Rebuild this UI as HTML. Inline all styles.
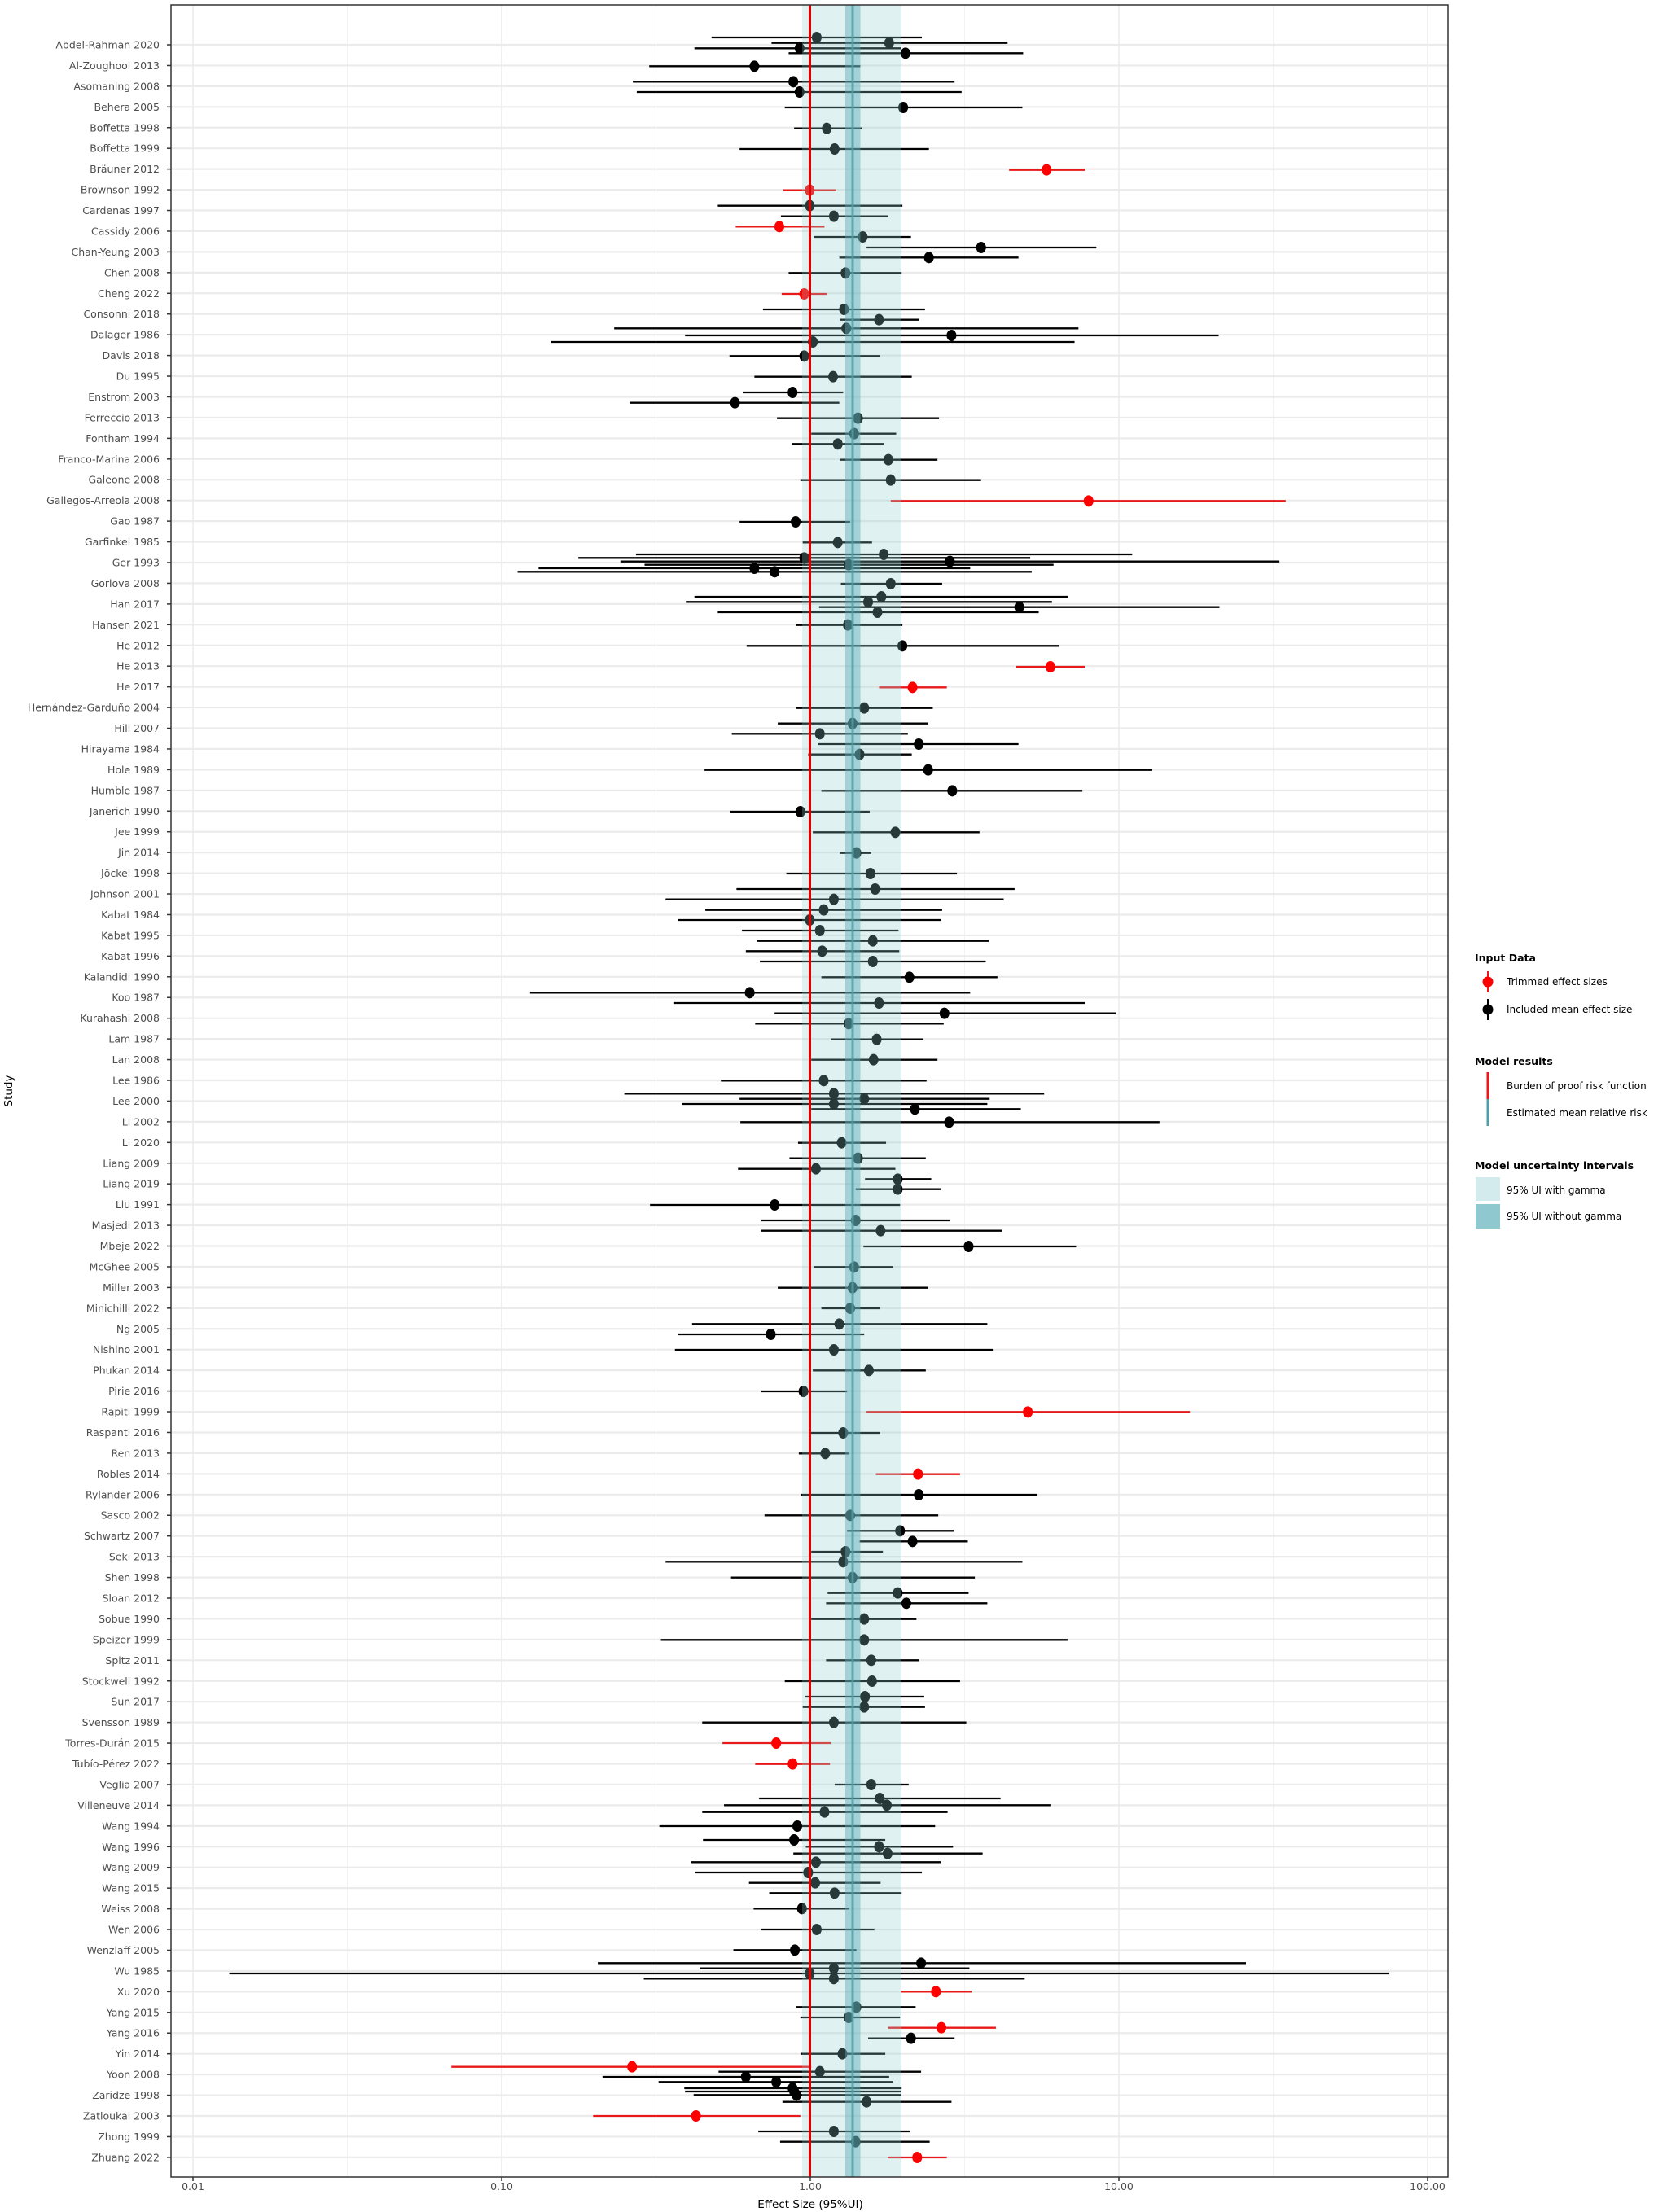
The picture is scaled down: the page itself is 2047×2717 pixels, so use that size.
<!DOCTYPE html>
<html><head><meta charset="utf-8"><style>
html,body{margin:0;padding:0;background:#fff;}
svg{display:block;font-family:"DejaVu Sans","Liberation Sans",sans-serif;}
</style></head><body>
<svg id="s" width="2047" height="2717" xmlns="http://www.w3.org/2000/svg"></svg>
<script>
const labels=["Abdel-Rahman 2020","Al-Zoughool 2013","Asomaning 2008","Behera 2005","Boffetta 1998","Boffetta 1999","Bräuner 2012","Brownson 1992","Cardenas 1997","Cassidy 2006","Chan-Yeung 2003","Chen 2008","Cheng 2022","Consonni 2018","Dalager 1986","Davis 2018","Du 1995","Enstrom 2003","Ferreccio 2013","Fontham 1994","Franco-Marina 2006","Galeone 2008","Gallegos-Arreola 2008","Gao 1987","Garfinkel 1985","Ger 1993","Gorlova 2008","Han 2017","Hansen 2021","He 2012","He 2013","He 2017","Hernández-Garduño 2004","Hill 2007","Hirayama 1984","Hole 1989","Humble 1987","Janerich 1990","Jee 1999","Jin 2014","Jöckel 1998","Johnson 2001","Kabat 1984","Kabat 1995","Kabat 1996","Kalandidi 1990","Koo 1987","Kurahashi 2008","Lam 1987","Lan 2008","Lee 1986","Lee 2000","Li 2002","Li 2020","Liang 2009","Liang 2019","Liu 1991","Masjedi 2013","Mbeje 2022","McGhee 2005","Miller 2003","Minichilli 2022","Ng 2005","Nishino 2001","Phukan 2014","Pirie 2016","Rapiti 1999","Raspanti 2016","Ren 2013","Robles 2014","Rylander 2006","Sasco 2002","Schwartz 2007","Seki 2013","Shen 1998","Sloan 2012","Sobue 1990","Speizer 1999","Spitz 2011","Stockwell 1992","Sun 2017","Svensson 1989","Torres-Durán 2015","Tubío-Pérez 2022","Veglia 2007","Villeneuve 2014","Wang 1994","Wang 1996","Wang 2009","Wang 2015","Weiss 2008","Wen 2006","Wenzlaff 2005","Wu 1985","Xu 2020","Yang 2015","Yang 2016","Yin 2014","Yoon 2008","Zaridze 1998","Zatloukal 2003","Zhong 1999","Zhuang 2022"];
const Z={
30:[[48,652,787,922],[68,729,880,1032],[88,630,765,895],[106,751,901,1052],[154,572,707,843],[211,551,757,964],[249,556,765,973],[306,746,898,1051],[383,758,800,845],[459,688,810,931],[536,1034,1082,1131,1],[611,744,778,812,1],[668,660,778,897],[707,741,809,879],[745,683,739,797,1],[783,783,846,908],[822,851,998,1146],[859,816,931,1046],[916,751,824,896],[993,742,771,800,1],[1050,718,822,926],[1088,817,867,918],[1120,527,825,1123],[1146,618,960,1303],[1170,446,782,1118],[1222,675,771,868],[1298,707,808,909]],
470:[[36,692,756,821],[74,547,682,816],[131,736,840,944],[188,780,835,889],[226,755,814,873],[284,817,879,942],[359,766,882,998],[436,882,1136,1389,1],[513,688,760,830],[589,769,814,858],[633,555,873,1192],[646,481,771,1061],[659,535,958,1381],[671,566,828,1091],[684,430,707,984],[697,403,733,1063],[741,818,882,948],[789,630,870,1110],[808,619,853,1089],[827,790,1047,1304],[846,660,865,1072],[893,760,827,897],[970,697,897,1098],[1047,1043,1087,1131,1],[1123,867,910,954,1],[1199,761,848,936],[1256,737,833,930],[1294,678,791,904],[1332,789,918,1046]],
910:[[50,776,842,909],[107,643,930,1217],[184,793,961,1128],[261,676,766,855],[337,782,888,996],[413,817,838,857],[489,748,856,967],[546,684,862,1041],[584,593,809,1027],[623,644,796,948],[660,609,778,947],[699,691,791,892],[737,710,859,1008],[775,696,794,893],[813,714,859,1004],[871,793,906,1019],[928,419,701,984],[966,604,867,1131],[1004,733,951,1171],[1042,708,828,950],[1100,805,864,924],[1175,780,860,942],[1252,664,796,928]],
1340:[[10,540,809,1079],[29,688,848,1009],[48,614,809,1006],[67,780,913,1049],[115,689,957,1227],[191,763,819,876],[248,752,840,927],[287,686,786,888],[325,849,891,934],[362,837,891,946],[420,573,733,894],[477,715,837,958],[515,715,869,1025],[573,847,982,1120],[649,784,835,885],[725,737,833,930],[801,793,830,868],[859,627,816,1006],[897,609,728,848],[954,605,809,1013],[1030,782,854,927],[1107,715,770,826],[1183,851,1058,1266,1],[1260,777,821,868]],
1780:[[16,764,798,829],[92,863,917,971,1],[168,767,918,1070],[244,720,830,943],[301,826,894,963],[340,842,910,981],[378,780,824,872],[415,593,821,1051],[473,677,833,990],[530,801,891,982],[568,799,902,1006],[626,780,848,915],[703,587,848,1109],[778,799,857,918],[855,746,858,971],[912,772,849,925],[950,769,848,926],[1007,640,809,979],[1083,666,735,805,1],[1160,708,756,804,1],[1236,810,857,905],[1287,713,868,1023],[1312,668,877,1087]],
2220:[[17,640,797,955],[69,585,762,939],[120,641,758,875],[145,773,867,962],[170,757,878,1000],[202,626,786,946],[240,631,776,922],[278,700,785,869],[316,726,810,896],[373,706,768,829],[450,715,787,861],[526,680,759,838],[574,506,921,1338],[593,637,809,983],[612,33,778,1522],[631,565,809,1054],[679,895,940,986,1],[736,761,838,914],[774,766,828,894],[812,879,947,1017,1],[851,853,908,964],[908,767,820,875],[956,318,550,780,1],[974,661,791,921],[993,512,696,880],[1012,584,735,885],[1035,617,756,896],[1047,618,758,895],[1060,629,761,895],[1085,743,851,960],[1137,500,632,766,1],[1194,712,809,907],[1232,740,837,932],[1290,878,916,954,1]]
};
const L=210,R=1778,T=6,B=2674;
const X=v=>995+379*Math.log10(v);
const zx=z=>250+z/1.0453;
let o='';
o+=`<rect x="${L}" y="${T}" width="${R-L}" height="${B-T}" fill="#fff"/>`;
// vertical grid
[0.01,0.1,1,10,100].forEach(v=>{o+=`<line x1="${X(v)}" x2="${X(v)}" y1="${T}" y2="${B}" stroke="#ebebeb" stroke-width="1.5"/>`;});
[0.01,0.1,1,10].forEach(v=>{const x=X(v*Math.sqrt(10));o+=`<line x1="${x}" x2="${x}" y1="${T}" y2="${B}" stroke="#f3f3f3" stroke-width="1"/>`;});
// horizontal grid + labels
labels.forEach((t,i)=>{const y=55+25.44*i;
o+=`<line x1="${L}" x2="${R}" y1="${y}" y2="${y}" stroke="#ebebeb" stroke-width="2.2"/>`;
o+=`<line x1="${L-5}" x2="${L}" y1="${y}" y2="${y}" stroke="#333" stroke-width="1.5"/>`;
o+=`<text x="196" y="${y+4.5}" font-size="12.5" fill="#4d4d4d" text-anchor="end">${t}</text>`;});
// series
let pts='';
for(const k in Z){const y0=+k;Z[k].forEach(d=>{const y=y0+d[0]/3;const c=d[4]?'#ff0000':'#000';
o+=`<line x1="${zx(d[1])}" x2="${zx(d[3])}" y1="${y}" y2="${y}" stroke="${d[4]?'#e8191a':'#000'}" stroke-width="2.3"/>`;
pts+=`<ellipse cx="${zx(d[2])}" cy="${y}" rx="6" ry="7" fill="${c}"/>`;});}
o+=pts;
// bands
o+=`<rect x="985" y="${T}" width="122" height="${B-T}" fill="#8fcdd2" opacity="0.28"/>`;
o+=`<rect x="1038" y="${T}" width="18.5" height="${B-T}" fill="#5aaab5" opacity="0.45"/>`;
o+=`<line x1="1047" x2="1047" y1="${T}" y2="${B}" stroke="#4f9fa8" stroke-width="3" opacity="0.8"/>`;
o+=`<line x1="994.5" x2="994.5" y1="${T}" y2="${B}" stroke="#e00000" stroke-width="3"/>`;
// border
o+=`<rect x="${L}" y="${T}" width="${R-L}" height="${B-T}" fill="none" stroke="#333" stroke-width="1.5"/>`;
// x ticks
[[0.01,'0.01'],[0.1,'0.10'],[1,'1.00'],[10,'10.00'],[100,'100.00']].forEach(([v,t])=>{
o+=`<line x1="${X(v)}" x2="${X(v)}" y1="${B}" y2="${B+5}" stroke="#333" stroke-width="1.5"/>`;
o+=`<text x="${X(v)}" y="${B+16}" font-size="12.5" fill="#4d4d4d" text-anchor="middle">${t}</text>`;});
o+=`<text x="995" y="2712" font-size="13.5" fill="#000" text-anchor="middle">Effect Size (95%UI)</text>`;
o+=`<text transform="translate(15,1340) rotate(-90)" font-size="13.5" fill="#000" text-anchor="middle">Study</text>`;
// legend
o+=`<text x="1811" y="1181" font-size="12.5" font-weight="bold">Input Data</text>`;
o+=`<line x1="1827" x2="1827" y1="1193" y2="1219" stroke="#e8191a" stroke-width="2"/><circle cx="1827" cy="1206" r="6.5" fill="#ff0000"/>`;
o+=`<text x="1850" y="1210" font-size="12">Trimmed effect sizes</text>`;
o+=`<line x1="1827" x2="1827" y1="1227" y2="1253" stroke="#000" stroke-width="2"/><circle cx="1827" cy="1240" r="6.5" fill="#000"/>`;
o+=`<text x="1850" y="1244" font-size="12">Included mean effect size</text>`;
o+=`<text x="1811" y="1308" font-size="12.5" font-weight="bold">Model results</text>`;
o+=`<line x1="1827" x2="1827" y1="1317" y2="1350" stroke="#e8191a" stroke-width="3"/><line x1="1827" x2="1827" y1="1350" y2="1383" stroke="#4f9fa8" stroke-width="3"/>`;
o+=`<text x="1850" y="1338" font-size="12">Burden of proof risk function</text>`;
o+=`<text x="1850" y="1371" font-size="12">Estimated mean relative risk</text>`;
o+=`<text x="1811" y="1436" font-size="12.5" font-weight="bold">Model uncertainty intervals</text>`;
o+=`<rect x="1812" y="1446" width="30" height="29" fill="#d3ebec"/><rect x="1812" y="1479" width="30" height="30" fill="#8fc9cf"/>`;
o+=`<text x="1850" y="1466" font-size="12">95% UI with gamma</text>`;
o+=`<text x="1850" y="1498" font-size="12">95% UI without gamma</text>`;
document.getElementById('s').innerHTML=o;
</script>
</body></html>
